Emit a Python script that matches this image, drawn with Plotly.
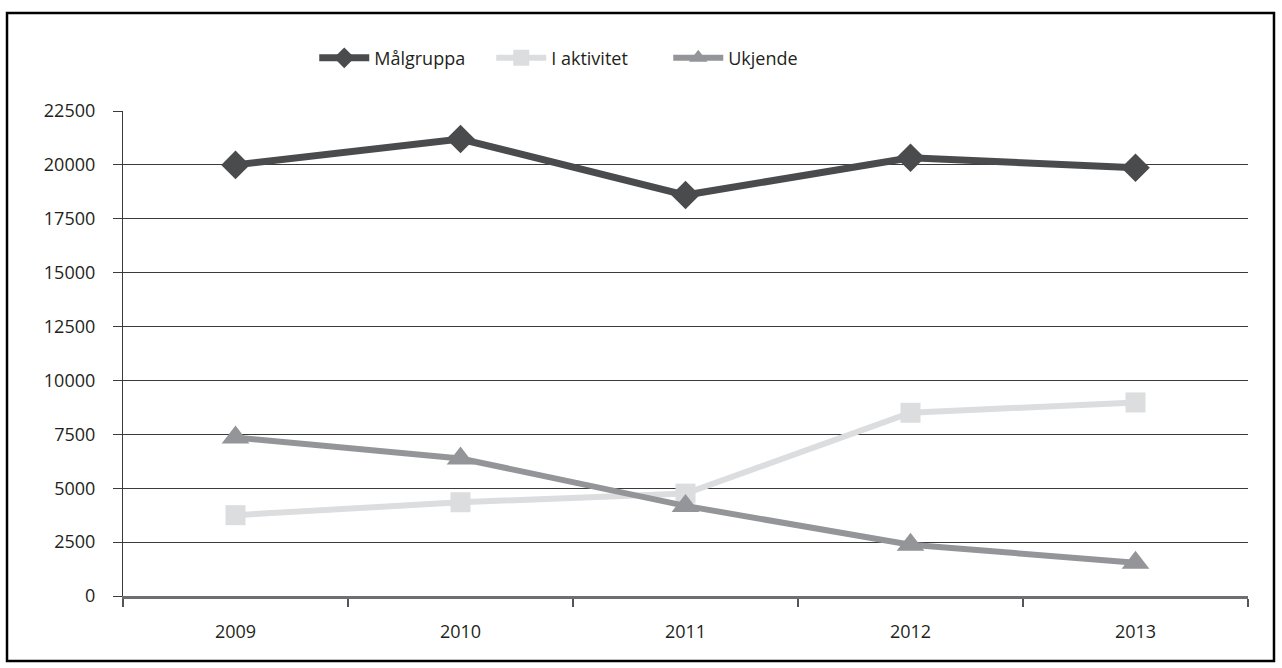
import plotly.graph_objects as go

years = ["2009", "2010", "2011", "2012", "2013"]
malgruppa = [20000, 21200, 18600, 20330, 19870]
i_aktivitet = [3750, 4350, 4750, 8500, 8980]
ukjende = [7350, 6380, 4180, 2380, 1540]
y_ticks = [0, 2500, 5000, 7500, 10000, 12500, 15000, 17500, 20000, 22500]

FONT = "Open Sans"

fig = go.Figure()

# Series
fig.add_trace(go.Scatter(
    x=years, y=malgruppa, mode="lines+markers", name="Målgruppa",
    line=dict(color="#4a4b4d", width=7),
    marker=dict(symbol="diamond", size=22, color="#4a4b4d"),
))
fig.add_trace(go.Scatter(
    x=years, y=i_aktivitet, mode="lines+markers", name="I aktivitet",
    line=dict(color="#dcdddf", width=6),
    marker=dict(symbol="square", size=20, color="#dcdddf"),
))
fig.add_trace(go.Scatter(
    x=years, y=ukjende, mode="lines+markers", name="Ukjende",
    line=dict(color="#949598", width=6),
    marker=dict(symbol="triangle-up", size=24, color="#949598"),
))

fig.update_layout(
    width=1282, height=668,
    margin=dict(l=123, r=34, t=111, b=72),
    paper_bgcolor="white", plot_bgcolor="white",
    font=dict(family=FONT, size=18, color="#231f20"),
    showlegend=True,
    legend=dict(
        orientation="h", x=0.17, xanchor="left", y=1.109, yanchor="middle",
        font=dict(size=18), entrywidth=112, itemwidth=50,
    ),
    xaxis=dict(
        type="category", range=[-0.5, 4.5], tickson="boundaries",
        ticks="outside", ticklen=8, tickcolor="#555", tickwidth=1.5,
        showline=True, linecolor="#6d6e71", linewidth=2.5,
        showgrid=False, ticklabelstandoff=18,
    ),
    yaxis=dict(
        range=[0, 22500], tickvals=y_ticks, tickformat="d",
        showgrid=True, gridcolor="#3a3a3a", gridwidth=1.2,
        zeroline=False,
        ticks="outside", ticklen=9, tickcolor="#3a3a3a", tickwidth=1.2,
        showline=True, linecolor="#3a3a3a", linewidth=1.2,
        ticklabelstandoff=14,
    ),
    shapes=[dict(
        type="rect", xref="paper", yref="paper",
        x0=-0.1031, x1=1.0231, y0=-0.134, y1=1.2021,
        line=dict(color="black", width=2.5), fillcolor="rgba(0,0,0,0)",
        layer="below",
    )],
)

# page has a default 8px body margin; drop it so the figure sits at 0,0
fig.write_html(
    "out.html",
    config={"displayModeBar": False},
    post_script="document.body.style.margin='0';",
)
